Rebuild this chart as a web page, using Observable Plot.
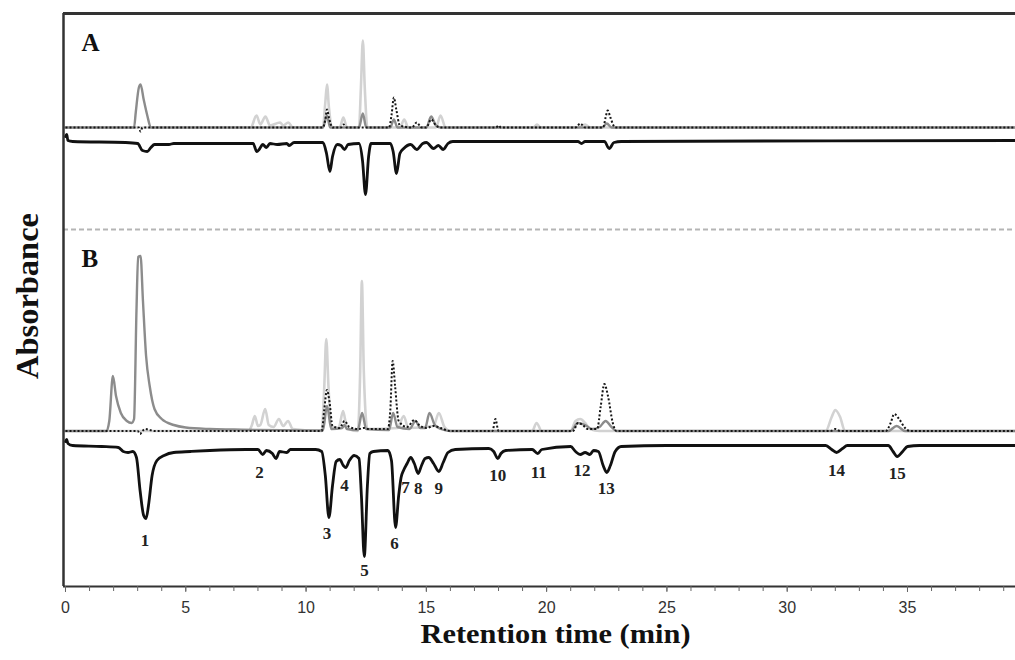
<!DOCTYPE html>
<html><head><meta charset="utf-8">
<script src="https://cdn.jsdelivr.net/npm/d3@7"></script>
<script src="https://cdn.jsdelivr.net/npm/@observablehq/plot@0.6"></script>
<style>body{margin:0;background:#fff} #chart svg{display:block}</style>
</head><body><div id="chart"></div>
<script>
// Retention time (min) ticks
const majorTicks = [0, 5, 10, 15, 20, 25, 30, 35];
const minorTicks = d3.range(0, 40, 1);

// ---- Panel A traces: [time (min), absorbance relative to trace baseline] ----
const aLight = [[0,0],[7.7,0],[7.94,12],[8.1,3],[8.31,11],[8.5,2],[8.92,5],[9.05,2],[9.26,5],[9.45,0],[10.7,0],[10.8,25],[10.87,43],[10.95,20],[11.1,0],[11.4,0],[11.55,10],[11.7,0],[12.2,0],[12.28,40],[12.36,87],[12.44,40],[12.55,0],[13.9,0],[14.08,8],[14.25,0],[15.4,0],[15.59,12],[15.8,0],[19.45,0],[19.6,3],[19.75,0],[21.3,0],[21.6,3],[21.8,0],[39.5,0]];
const aDark = [[0,0],[2.85,0],[2.92,15],[3.05,40],[3.12,43],[3.25,28],[3.4,12],[3.55,0],[10.7,0],[10.87,12],[11.0,0],[12.2,0],[12.36,14],[12.5,0],[13.5,0],[13.65,8],[13.8,0],[15.0,0],[15.2,11],[15.4,2],[15.6,0],[22.3,0],[22.5,4],[22.7,0],[39.5,0]];
const aDotted = [[0,0],[3.05,0],[3.12,-4],[3.2,0],[10.7,0],[10.8,8],[10.87,18],[10.95,10],[11.1,0],[11.45,0],[11.55,3],[11.7,0],[13.45,0],[13.55,12],[13.65,30],[13.75,18],[13.9,2],[14.4,0],[14.6,5],[14.8,0],[15.0,0],[15.2,8],[15.4,2],[15.6,0],[17.9,0],[18.0,2],[18.1,0],[21.2,0],[21.4,4],[21.6,0],[22.35,0],[22.45,10],[22.54,17],[22.65,10],[22.85,0],[39.5,0]];
const aBlack = [[0,5],[0.05,7],[0.1,1],[0.3,0],[2.5,-1],[3.0,-2],[3.2,-9],[3.4,-10],[3.55,-6],[3.7,-3],[4.3,-3],[4.5,-2],[7.0,-2],[7.8,-2],[7.95,-10],[8.05,-8],[8.2,-3],[8.35,-6],[8.5,-2],[8.8,-3],[9.2,-2],[9.3,-4],[9.5,-1],[10.7,-1],[10.85,-12],[10.99,-30],[11.1,-15],[11.3,-3],[11.45,-4],[11.6,-8],[11.75,-3],[12.2,-2],[12.35,-20],[12.47,-53],[12.6,-15],[12.7,-2],[13.5,-2],[13.62,-10],[13.76,-32],[13.9,-12],[14.06,-7],[14.35,-3],[14.6,-8],[14.85,-2],[15.0,-1],[15.3,-7],[15.5,-4],[15.7,-8],[15.9,-2],[16.1,0],[21.3,0],[21.45,-2],[21.6,0],[22.4,0],[22.6,-7],[22.8,-1],[23.1,0],[39.5,1]];

// ---- Panel B traces ----
const bLight = [[0,0],[7.6,0],[7.75,6],[7.87,15],[8.0,5],[8.1,6],[8.3,22],[8.45,6],[8.65,4],[8.87,12],[9.05,5],[9.25,10],[9.45,2],[10.65,0],[10.75,40],[10.84,92],[10.93,45],[11.05,5],[11.35,3],[11.54,20],[11.7,3],[12.15,0],[12.25,60],[12.32,150],[12.4,60],[12.55,2],[13.8,3],[14.06,15],[14.25,3],[15.3,5],[15.52,18],[15.75,4],[16,0],[19.4,0],[19.58,8],[19.8,0],[21.0,0],[21.2,10],[21.4,12],[21.6,8],[21.8,2],[22.2,0],[31.6,0],[31.85,14],[32.0,21],[32.2,14],[32.4,0],[39.5,0]];
const bDark = [[0,0],[1.7,0],[1.82,10],[1.97,55],[2.1,35],[2.3,18],[2.55,10],[2.75,8],[2.85,12],[2.95,120],[3.02,174],[3.12,175],[3.22,130],[3.35,75],[3.5,45],[3.7,22],[4.0,12],[4.5,6],[5.0,3.5],[6.0,2],[7.0,1.5],[8,1],[10.7,0.5],[10.87,25],[11.05,2],[11.5,3],[11.6,6],[11.7,2],[12.15,1],[12.33,18],[12.5,2],[13.45,1],[13.62,18],[13.8,4],[14.3,2],[14.55,10],[14.75,3],[14.95,3],[15.13,18],[15.35,6],[15.6,2],[16,0],[21.0,0],[21.3,8],[21.6,6],[21.9,2],[22.2,4],[22.45,10],[22.7,4],[22.9,0],[34.2,0],[34.55,5],[34.9,0],[39.5,0]];
const bDotted = [[0,0],[3.0,0],[3.1,-3],[3.2,0],[3.3,2],[3.5,1],[3.7,0],[10.65,0],[10.75,20],[10.87,41],[10.97,30],[11.1,5],[11.4,3],[11.6,10],[11.8,4],[12.2,2],[12.4,3],[12.6,2],[13.4,2],[13.5,20],[13.6,70],[13.7,45],[13.85,10],[14.2,4],[14.5,11],[14.7,6],[15.0,3],[15.3,5],[15.6,3],[16,0],[17.75,0],[17.87,12],[18.0,0],[21.1,0],[21.3,8],[21.5,6],[21.7,2],[22.1,2],[22.25,25],[22.4,47],[22.55,35],[22.75,8],[22.9,0],[31.8,0],[32.0,2],[32.2,0],[34.1,0],[34.3,8],[34.45,17],[34.65,12],[34.9,3],[35.1,0],[39.5,0]];
const bBlack = [[0,4],[0.05,6],[0.1,2],[0.3,0],[1.5,-1],[2.2,-2],[2.4,-6],[2.6,-7],[2.8,-6],[2.95,-12],[3.1,-45],[3.25,-70],[3.35,-73],[3.45,-60],[3.6,-30],[3.8,-15],[4.1,-10],[4.5,-7],[5.2,-6],[6,-5],[7.5,-4],[8.0,-4],[8.2,-9],[8.35,-5],[8.6,-8],[8.75,-13],[8.9,-6],[9.2,-7],[9.35,-4],[9.6,-4],[10.4,-4],[10.65,-6],[10.8,-30],[10.95,-72],[11.1,-40],[11.25,-16],[11.4,-14],[11.55,-20],[11.65,-22],[11.8,-15],[12.0,-10],[12.2,-13],[12.3,-50],[12.42,-111],[12.55,-40],[12.65,-8],[12.8,-6],[13.4,-5],[13.55,-15],[13.72,-82],[13.85,-50],[13.95,-32],[14.05,-25],[14.2,-18],[14.35,-12],[14.5,-18],[14.66,-28],[14.8,-20],[14.95,-13],[15.1,-12],[15.3,-18],[15.52,-26],[15.7,-17],[15.9,-7],[16.2,-4],[17.6,-3],[17.8,-6],[17.97,-13],[18.1,-8],[18.3,-5],[19.4,-4],[19.63,-8],[19.8,-4],[21.0,-1],[21.2,-6],[21.4,-9],[21.6,-7],[21.8,-9],[21.95,-5],[22.15,-6],[22.35,-20],[22.5,-27],[22.65,-20],[22.85,-6],[23.1,-1],[25,0],[31.6,0],[31.85,-4],[32.05,-7],[32.3,-3],[32.5,0],[34.2,0],[34.4,-6],[34.57,-11],[34.8,-6],[35.0,-1],[35.5,0],[39.5,0]];

// Peak numbers (panel B): retention time and label level relative to the black trace baseline
const peakNumbers = ["1","2","3","4","5","6","7","8","9","10","11","12","13","14","15"];
const peakTimes   = [3.3, 8.06, 10.87, 11.6, 12.43, 13.68, 14.13, 14.66, 15.52, 17.97, 19.67, 21.47, 22.48, 32.05, 34.57];
const peakLabelLevel = [-95, -27, -88, -40, -125, -98, -42, -43, -43, -30, -27, -25, -43, -25, -28];

// vertical offsets of each stacked trace (arbitrary absorbance units)
const baseA = {up: 459, black: 445};
const baseB = {up: 155.5, black: 141};
const separatorLevel = 357;
const yDomain = [0, 573];
const xDomain = [-0.083, 39.49];

const rows = (pts, base) => pts.map(([t, v]) => ({t, v: v + base}));
const labels = peakNumbers.map((n, i) => ({n, t: peakTimes[i], v: peakLabelLevel[i] + baseB.black}));

const serif = "'Liberation Serif', 'Times New Roman', serif";
const lineOpts = {x: "t", y: "v", curve: "monotone-x"};
const dotted = {stroke: "#151515", strokeWidth: 2, strokeDasharray: "2,2", strokeLinecap: "butt"};

const plot = Plot.plot({
  width: 1015,
  height: 660,
  marginLeft: 63,
  marginRight: 0,
  marginTop: 13,
  marginBottom: 74,
  x: {domain: xDomain},
  y: {domain: yDomain, axis: null},
  style: {background: "white"},
  marks: [
    Plot.ruleY([separatorLevel], {stroke: "#b5b5b5", strokeWidth: 2, strokeDasharray: "5,3"}),
    // panel A
    Plot.line(rows(aLight, baseA.up), {...lineOpts, stroke: "#d2d2d2", strokeWidth: 2.6}),
    Plot.line(rows(aDark, baseA.up), {...lineOpts, stroke: "#8c8c8c", strokeWidth: 2.4}),
    Plot.line(rows(aDotted, baseA.up), {...lineOpts, ...dotted}),
    Plot.line(rows(aBlack, baseA.black), {...lineOpts, stroke: "#111", strokeWidth: 2.8}),
    // panel B
    Plot.line(rows(bLight, baseB.up), {...lineOpts, stroke: "#d2d2d2", strokeWidth: 2.6}),
    Plot.line(rows(bDark, baseB.up), {...lineOpts, stroke: "#8c8c8c", strokeWidth: 2.4}),
    Plot.line(rows(bDotted, baseB.up), {...lineOpts, ...dotted}),
    Plot.line(rows(bBlack, baseB.black), {...lineOpts, stroke: "#111", strokeWidth: 2.8}),
    Plot.text(labels, {x: "t", y: "v", text: "n", fontFamily: serif, fontWeight: "bold", fontSize: 17, fill: "#222"}),
    // panel letters
    Plot.text(["A"], {frameAnchor: "top-left", dx: 18, dy: 20, fontFamily: serif, fontWeight: "bold", fontSize: 25, fill: "#111"}),
    Plot.text(["B"], {frameAnchor: "top-left", dx: 18, dy: 236, fontFamily: serif, fontWeight: "bold", fontSize: 25, fill: "#111"}),
    // frame (left, top, bottom)
    Plot.ruleX([xDomain[0]], {stroke: "#333", strokeWidth: 2.5}),
    Plot.ruleY([yDomain[1]], {stroke: "#333", strokeWidth: 3}),
    Plot.ruleY([yDomain[0]], {stroke: "#333", strokeWidth: 2}),
    // axes
    Plot.axisX({ticks: minorTicks, tickFormat: () => "", tickSize: 5, stroke: "#666", label: null}),
    Plot.axisX({ticks: majorTicks, tickSize: 6, tickPadding: 9, fontSize: 16, stroke: "#666", fill: "#333", label: null, fontFamily: "'Liberation Sans Narrow', 'Liberation Sans', Arial, sans-serif"}),
    Plot.text(["Retention time (min)"], {frameAnchor: "bottom", dx: 16, dy: 56, fontFamily: serif, fontWeight: "bold", fontSize: 28, fill: "#111"}),
    Plot.text(["Absorbance"], {frameAnchor: "left", textAnchor: "middle", rotate: -90, dx: -35, dy: -4, fontFamily: serif, fontWeight: "bold", fontSize: 31, fill: "#111"})
  ]
});
// condense the serif titles to the reference's proportions
d3.select(plot).selectAll("text").each(function() {
  const s = d3.select(this);
  const txt = s.text();
  if (txt === "Retention time (min)") s.attr("textLength", 270).attr("lengthAdjust", "spacingAndGlyphs");
  if (txt === "Absorbance") s.attr("textLength", 166).attr("lengthAdjust", "spacingAndGlyphs");
});
document.getElementById("chart").append(plot);
</script></body></html>
